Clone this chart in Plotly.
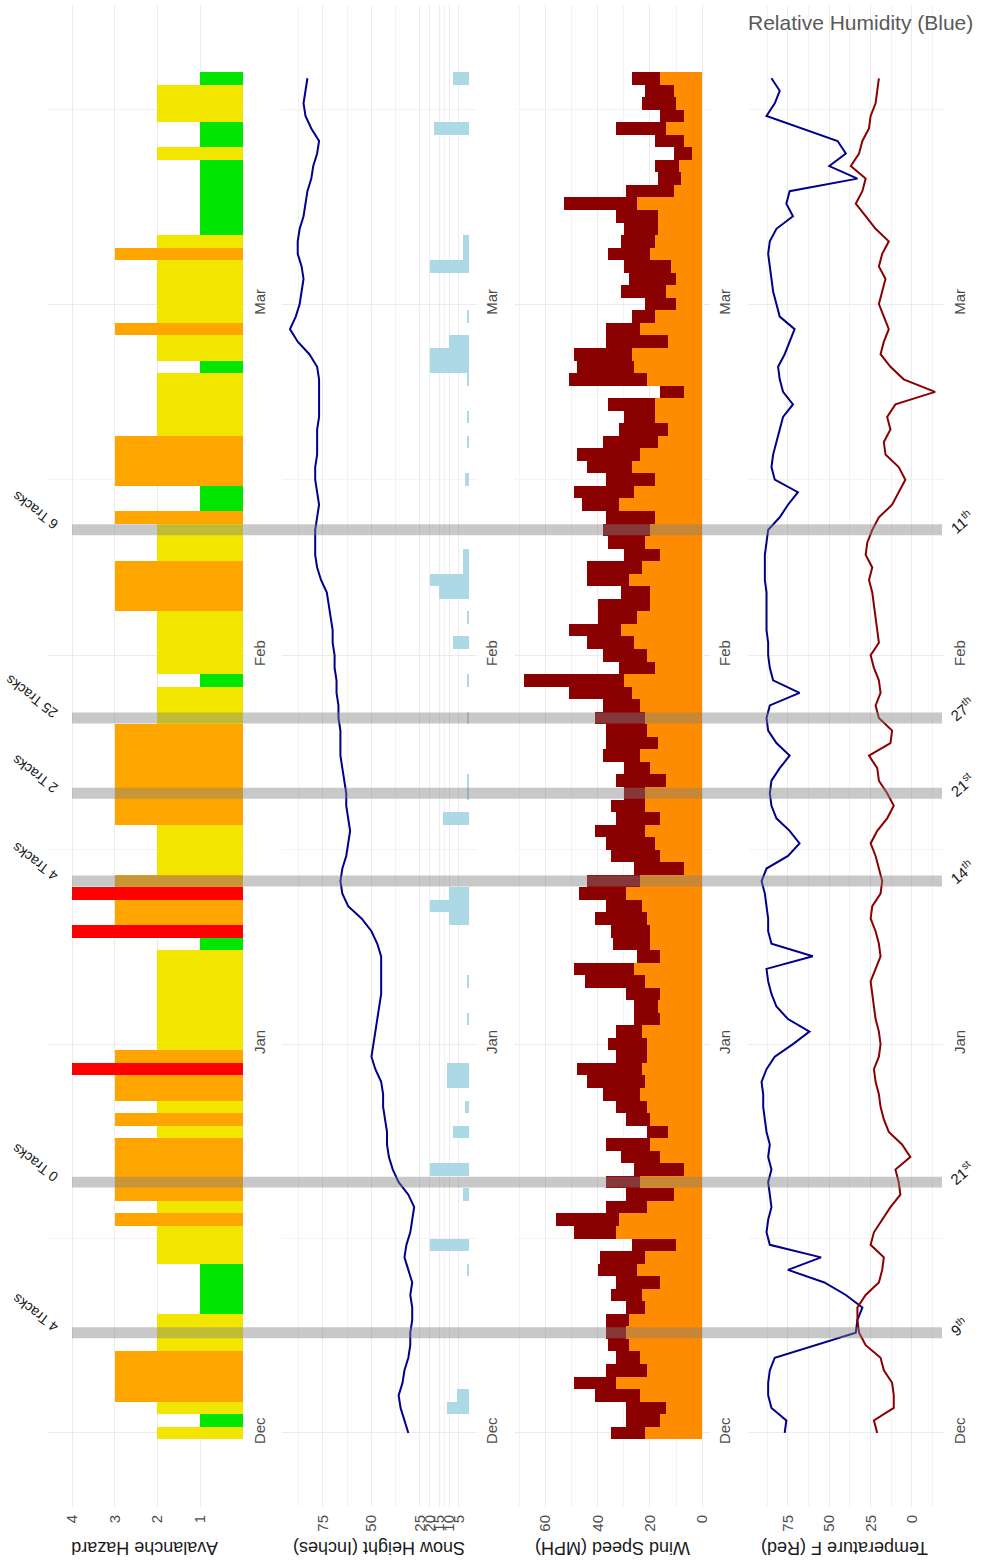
import pandas as pd
import plotly.graph_objects as go

# ---- daily observations, 1 Dec -> 19 Mar ----
dates = pd.date_range("2014-12-01", "2015-03-19", freq="D")

hazard = [2, 1, 2, 3, 3, 3, 3, 2, 2, 2, 1, 1, 1, 1, 2, 2, 2, 3, 2, 3,
          3, 3, 3, 3, 2, 3, 2, 3, 3, 4, 3, 2, 2, 2, 2, 2, 2, 2, 2, 1,
          4, 3, 3, 4, 3, 2, 2, 2, 2, 3, 3, 3, 3, 3, 3, 3, 3, 2, 2, 2,
          1, 2, 2, 2, 2, 2, 3, 3, 3, 3, 2, 2, 2, 3, 1, 1, 3, 3, 3, 3,
          2, 2, 2, 2, 2, 1, 2, 2, 3, 2, 2, 2, 2, 2, 3, 2, 1, 1, 1, 1,
          1, 1, 2, 1, 1, 2, 2, 2, 1]

snow_depth = [31, 33, 35, 36, 34, 33, 31, 30, 30, 29, 29, 30, 29, 31, 33, 32, 30, 29, 28, 31,
              36, 39, 41, 42, 42, 43, 44, 44, 45, 48, 50, 49, 48, 47, 46, 45, 45, 45, 45, 47,
              50, 55, 62, 65, 66, 65, 63, 62, 61, 62, 63, 63, 64, 65, 66, 66, 66, 67, 67, 68,
              68, 69, 69, 70, 70, 71, 72, 73, 76, 78, 79, 79, 79, 78, 77, 78, 79, 79, 78, 78,
              78, 77, 77, 77, 77, 78, 82, 88, 92, 89, 87, 86, 85, 86, 88, 88, 87, 85, 84, 83,
              81, 80, 78, 77, 81, 84, 85, 84, 83]

new_snow = [0, 0, 11, 6, 0, 0, 0, 0, 0, 0, 0, 0, 0, 1, 0, 20, 0, 0, 0, 3,
            0, 20, 0, 0, 8, 0, 2, 0, 11, 11, 0, 0, 0, 1, 0, 0, 1, 0, 0, 0,
            0, 10, 20, 10, 0, 0, 0, 0, 0, 13, 0, 1, 1, 0, 0, 0, 0, 1, 0, 0,
            1, 0, 0, 8, 0, 1, 0, 15, 20, 3, 3, 0, 0, 0, 0, 0, 2, 0, 0, 1,
            0, 1, 0, 0, 1, 20, 20, 10, 0, 1, 0, 0, 0, 20, 3, 3, 0, 0, 0, 0,
            0, 0, 0, 0, 18, 0, 0, 0, 8]

wind_gust = [35, 29, 29, 41, 49, 37, 33, 36, 37, 37, 29, 35, 33, 40, 39, 27, 49, 56, 37, 29,
             37, 26, 31, 37, 21, 29, 33, 38, 44, 48, 33, 36, 33, 26, 26, 29, 45, 49, 25, 34,
             35, 41, 37, 47, 44, 26, 35, 37, 41, 33, 35, 30, 33, 30, 38, 37, 37, 41, 38, 51,
             68, 32, 38, 44, 51, 40, 40, 31, 44, 44, 30, 36, 38, 37, 46, 49, 37, 44, 48, 38,
             32, 30, 36, 16, 51, 48, 49, 37, 37, 27, 22, 31, 28, 30, 36, 31, 30, 33, 53, 29,
             17, 18, 11, 18, 33, 16, 23, 22, 27]

wind_avg = [22, 16, 14, 24, 33, 21, 24, 28, 29, 28, 22, 23, 16, 25, 22, 10, 33, 32, 21, 11,
            24, 7, 16, 20, 13, 20, 21, 24, 22, 23, 21, 21, 23, 16, 17, 16, 22, 26, 16, 20,
            20, 21, 23, 29, 24, 7, 16, 18, 22, 16, 22, 22, 14, 20, 24, 17, 21, 22, 24, 27,
            30, 18, 21, 26, 31, 25, 20, 20, 28, 23, 16, 22, 20, 18, 32, 26, 18, 27, 24, 17,
            13, 18, 18, 7, 21, 26, 27, 13, 24, 18, 10, 14, 10, 12, 20, 18, 17, 17, 25, 11,
            8, 9, 4, 7, 14, 7, 10, 11, 16]

rel_humidity = [77, 76, 85, 87, 87, 86, 83, 59, 34, 33, 30, 40, 53, 75, 55, 86, 88, 87, 85, 86,
                87, 85, 87, 86, 88, 89, 90, 90, 91, 88, 83, 72, 62, 75, 82, 85, 87, 88, 60, 85,
                87, 87, 88, 89, 91, 88, 75, 68, 74, 82, 85, 86, 85, 80, 74, 82, 87, 88, 86, 68,
                84, 86, 87, 87, 88, 88, 88, 88, 89, 89, 89, 88, 87, 80, 75, 69, 83, 85, 84, 82,
                80, 78, 72, 78, 80, 81, 77, 74, 71, 80, 82, 84, 85, 86, 87, 86, 82, 72, 76, 74,
                33, 50, 40, 45, 67, 88, 83, 80, 85]

temperature = [21, 23, 11, 11, 12, 17, 19, 28, 32, 33, 33, 28, 20, 18, 17, 25, 23, 18, 13, 7,
               8, 10, 1, 6, 14, 17, 19, 20, 22, 23, 20, 19, 20, 22, 23, 24, 25, 22, 19, 20,
               22, 25, 24, 19, 18, 20, 22, 25, 21, 15, 11, 15, 20, 21, 26, 13, 12, 20, 22, 19,
               20, 23, 25, 20, 21, 22, 23, 24, 26, 24, 28, 27, 24, 20, 12, 8, 4, 8, 16, 17,
               13, 15, 10, -14, 5, 13, 19, 17, 14, 17, 20, 18, 16, 20, 18, 14, 22, 28, 34, 30,
               28, 37, 32, 30, 26, 25, 22, 21, 20]

# observation days highlighted across all panels
event_dates = ["2014-12-09", "2014-12-21", "2015-01-14", "2015-01-21", "2015-01-27", "2015-02-11"]
event_tracks = ["4 Tracks", "0 Tracks", "4 Tracks", "2 Tracks", "25 Tracks", "6 Tracks"]
event_day_labels = ["9<sup>th</sup>", "21<sup>st</sup>", "14<sup>th</sup>",
                    "21<sup>st</sup>", "27<sup>th</sup>", "11<sup>th</sup>"]

month_ticks = ["2014-12-01", "2015-01-01", "2015-02-01", "2015-03-01"]
month_labels = ["Dec", "Jan", "Feb", "Mar"]

# ---- styling ----
W, H = 981, 1564
TOP, BOTTOM = 5, 1507            # plot area, px from top
PLOT_H = BOTTOM - TOP
FONT = "Liberation Sans, Arial, sans-serif"
GRID = "#ebebeb"
MINOR = "#f3f3f3"
TICK_FONT = dict(family=FONT, size=15, color="#4d4d4d")
hazard_colors = {1: "#00e600", 2: "#f2e600", 3: "#ffa500", 4: "#ff0000"}
DAY_MS = 86400000


def py(px):
    """pixel row -> paper y"""
    return (BOTTOM - px) / PLOT_H


panels_px = [(47, 245), (282, 477), (515, 710), (748, 945)]
domains = [[a / W, b / W] for a, b in panels_px]

fig = go.Figure()

fig.add_trace(go.Bar(y=dates, x=hazard, orientation="h", width=DAY_MS,
                     marker=dict(color=[hazard_colors[h] for h in hazard], line_width=0),
                     xaxis="x", yaxis="y", hoverinfo="x+y"))

fig.add_trace(go.Bar(y=dates, x=new_snow, orientation="h", width=DAY_MS,
                     marker=dict(color="#add8e6", line_width=0),
                     xaxis="x2", yaxis="y2"))
fig.add_trace(go.Scatter(y=dates, x=snow_depth, mode="lines",
                         line=dict(color="#00008b", width=2),
                         xaxis="x2", yaxis="y2"))

fig.add_trace(go.Bar(y=dates, x=wind_gust, orientation="h", width=DAY_MS,
                     marker=dict(color="#8b0000", line_width=0),
                     xaxis="x3", yaxis="y3"))
fig.add_trace(go.Bar(y=dates, x=wind_avg, orientation="h", width=DAY_MS,
                     marker=dict(color="#ff8c00", line_width=0),
                     xaxis="x3", yaxis="y3"))

fig.add_trace(go.Scatter(y=dates, x=rel_humidity, mode="lines",
                         line=dict(color="#00008b", width=2),
                         xaxis="x4", yaxis="y4"))
fig.add_trace(go.Scatter(y=dates, x=temperature, mode="lines",
                         line=dict(color="#8b0000", width=2),
                         xaxis="x4", yaxis="y4"))

# value axes (drawn right-to-left)
value_axes = [
    dict(range=[4.586, -0.054], tickvals=[1, 2, 3, 4], minor=None),
    dict(range=[96.1, -4.38], tickvals=[5, 10, 15, 20, 25, 50, 75], minor=[12.5, 37.5, 62.5, 87.5]),
    dict(range=[71.6, -2.94], tickvals=[0, 20, 40, 60], minor=[10, 30, 50, 70]),
    dict(range=[99.2, -20.0], tickvals=[0, 25, 50, 75], minor=[-12.5, 12.5, 37.5, 62.5, 87.5]),
]

date_range = ["2014-11-25 02:24", "2015-03-24 20:10"]
minor_dates = ["2014-12-16 12:00", "2015-01-16 12:00", "2015-02-15 00:00", "2015-03-16 12:00"]

layout = dict(
    width=W, height=H,
    margin=dict(l=0, r=0, t=TOP, b=H - BOTTOM),
    paper_bgcolor="white", plot_bgcolor="white",
    showlegend=False, barmode="overlay", bargap=0,
    font=dict(family=FONT),
)

for i, (dom, va) in enumerate(zip(domains, value_axes), start=1):
    sfx = "" if i == 1 else str(i)
    xa = dict(domain=dom, anchor="y" + sfx, range=va["range"], tickvals=va["tickvals"],
              tickangle=-90, tickfont=TICK_FONT, ticklabelstandoff=4,
              showgrid=True, gridcolor=GRID, gridwidth=1,
              zeroline=False, showline=False, ticks="", fixedrange=True)
    if va["minor"]:
        xa["minor"] = dict(tickvals=va["minor"], showgrid=True, gridcolor=MINOR, gridwidth=1)
    ya = dict(domain=[0, 1], anchor="x" + sfx, type="date", range=date_range, side="right",
              tickvals=month_ticks, ticktext=month_labels, tickangle=-90, tickfont=TICK_FONT,
              ticklabelstandoff=4,
              showgrid=True, gridcolor=GRID, gridwidth=1, zeroline=False, showline=False,
              ticks="", minor=dict(tickvals=minor_dates, showgrid=True, gridcolor=MINOR, gridwidth=1))
    layout["xaxis" + sfx] = xa
    layout["yaxis" + sfx] = ya

fig.update_layout(**layout)

# axis titles (upside down)
titles = ["Avalanche Hazard", "Snow Height (Inches)", "Wind Speed (MPH)", "Temperature F (Red)"]
title_x = [145, 379, 613, 845]
for t, x in zip(titles, title_x):
    fig.add_annotation(text=t, x=x / W, y=py(1548), xref="paper", yref="paper",
                       showarrow=False, textangle=180, xanchor="center", yanchor="middle",
                       font=dict(family=FONT, size=18, color="#1a1a1a"))

fig.add_annotation(text="Relative Humidity (Blue)", x=975 / W, y=py(22),
                   xref="paper", yref="paper", xanchor="right", yanchor="middle",
                   showarrow=False, font=dict(family=FONT, size=21, color="#595959"))

# highlighted days
half = pd.Timedelta(hours=10.5)
for d, tr, lab in zip(event_dates, event_tracks, event_day_labels):
    t = pd.Timestamp(d)
    fig.add_shape(type="rect", xref="paper", yref="y", x0=72 / W, x1=942 / W,
                  y0=t - half, y1=t + half, fillcolor="rgba(128,128,128,0.43)",
                  line_width=0, layer="above")
    fig.add_annotation(text=tr, x=64 / W, y=t, xref="paper", yref="y",
                       xanchor="right", yanchor="bottom", yshift=-6, showarrow=False,
                       textangle=-143, font=dict(family=FONT, size=14, color="#1a1a1a"))
    fig.add_annotation(text=lab, x=943 / W, y=t, xref="paper", yref="y",
                       xanchor="left", yanchor="bottom", yshift=-9, showarrow=False,
                       textangle=-40, font=dict(family=FONT, size=15, color="#1a1a1a"))

fig.write_html("out.html")
